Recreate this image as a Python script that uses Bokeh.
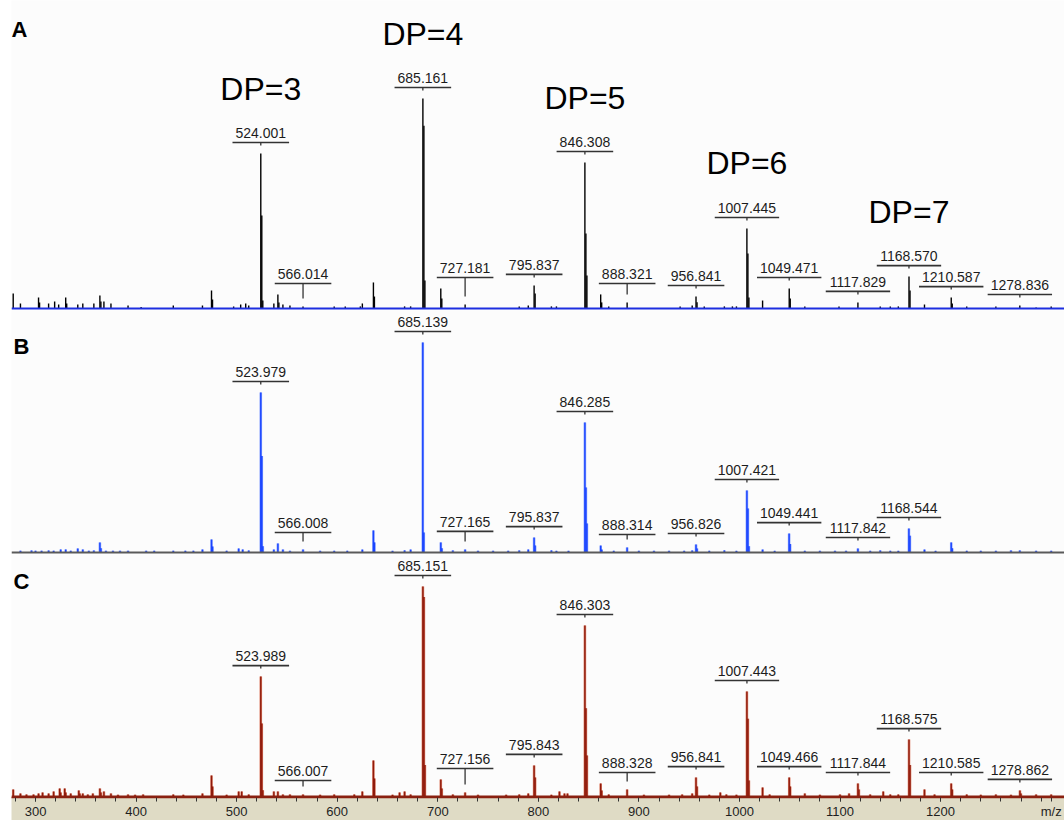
from bokeh.plotting import figure
from bokeh.layouts import column
from bokeh.models import ColumnDataSource, Span, Label, FixedTicker, Range1d
from bokeh.embed import file_html
from bokeh.resources import INLINE
from bokeh.core.properties import value

# ---------------- data (relative intensity %, base peak = 100) ----------------
dp_names = ["DP=3", "DP=4", "DP=5", "DP=6", "DP=7"]
dp_peaks_a = ["524.001", "685.161", "846.308", "1007.445", "1168.570"]

labels_a = ["524.001", "566.014", "685.161", "727.181", "795.837", "846.308", "888.321",
            "956.841", "1007.445", "1049.471", "1117.829", "1168.570", "1210.587", "1278.836"]
labels_b = ["523.979", "566.008", "685.139", "727.165", "795.837", "846.285", "888.314",
            "956.826", "1007.421", "1049.441", "1117.842", "1168.544"]
labels_c = ["523.989", "566.007", "685.151", "727.156", "795.843", "846.303", "888.328",
            "956.841", "1007.443", "1049.466", "1117.844", "1168.575", "1210.585", "1278.862"]

spec_a = [(277.8, 7.1), (285, 2.4), (303, 5.2), (304, 2.9), (313, 2.4), (319, 3.3), (323, 1.9),
          (330, 5.2), (331, 2.4), (342, 1.9), (347, 2.4), (358, 2.4), (364, 6.2), (365, 3.3),
          (368, 3.3), (375, 2.4), (392, 1.4), (405, 0.7), (437, 1.4), (466, 1.4), (475, 8.6),
          (476, 4.3), (497, 1.0), (504, 1.9), (509, 2.4), (512, 1.4),
          (524.0, 73.8), (525.0, 44.3), (526.0, 3.8), (537, 2.4), (541, 6.7), (542, 2.9),
          (546, 1.9), (553, 1.4), (566.0, 1.0), (597, 1.0), (608, 1.0), (623, 1.0), (625, 2.4),
          (636, 12.4), (637, 5.7), (667, 1.0), (673, 1.0),
          (685.2, 100.0), (686.2, 87.0), (687.2, 13.3), (703, 9.5), (704, 4.8), (727.2, 1.9),
          (781, 1.0), (790, 1.4), (795.8, 11.0), (796.8, 7.1), (813, 1.0), (818, 1.0),
          (846.3, 69.5), (847.3, 35.7), (848.3, 15.7), (862, 6.7), (863, 2.9), (870, 1.0),
          (888.3, 2.9), (941, 1.0), (953, 1.4), (956.8, 5.7), (957.8, 3.0), (965, 1.0),
          (985, 1.0), (993, 1.0), (997, 1.0),
          (1007.4, 38.1), (1008.4, 26.2), (1009.4, 5.2), (1023, 3.8), (1049.5, 9.5),
          (1050.5, 4.8), (1065, 1.0), (1099, 1.0), (1117.8, 2.9), (1140, 1.0), (1150, 1.0),
          (1158, 1.0), (1168.6, 15.2), (1169.6, 8.6), (1184, 1.9), (1210.6, 5.2), (1211.6, 2.4),
          (1226, 1.0), (1255, 1.0), (1278.8, 1.4), (1295, 0.5), (1310, 1.0)]

spec_b = [(285, 0.8), (296, 1.0), (300, 0.8), (306, 0.8), (313, 1.0), (318, 0.8), (325, 1.4),
          (330, 1.4), (335, 0.8), (342, 1.9), (347, 1.4), (353, 0.8), (358, 1.0), (364, 4.8),
          (365, 2.0), (370, 0.8), (377, 0.8), (384, 0.8), (392, 0.8), (410, 0.8), (418, 0.8),
          (437, 0.8), (449, 0.8), (457, 0.8), (466, 1.4), (475, 6.2), (476, 2.9), (490, 0.8),
          (502, 1.9), (506, 1.4), (512, 1.0),
          (524.0, 76.2), (525.0, 46.0), (526.0, 3.0), (537, 1.4), (541, 4.3), (546, 1.4),
          (553, 0.8), (566.0, 1.4), (583, 0.8), (597, 0.8), (610, 0.8), (625, 1.4), (636, 10.5),
          (637, 4.8), (655, 0.8), (667, 1.0), (673, 1.4),
          (685.1, 100.0), (686.1, 9.5), (703, 4.8), (704, 2.0), (715, 1.0), (727.2, 1.4),
          (740, 0.8), (755, 0.8), (770, 0.8), (781, 1.0), (790, 1.4), (795.8, 7.1), (796.8, 3.3),
          (813, 1.0), (818, 0.8), (830, 0.8),
          (846.3, 61.9), (847.3, 31.0), (848.3, 13.8), (862, 3.3), (863, 1.4), (875, 0.8),
          (888.3, 2.4), (900, 0.8), (915, 0.8), (930, 0.8), (945, 0.8), (953, 1.0), (956.8, 3.8),
          (957.8, 1.9), (970, 0.8), (985, 1.0), (997, 0.8),
          (1007.4, 29.5), (1008.4, 21.0), (1009.4, 3.0), (1023, 1.4), (1035, 0.8),
          (1049.4, 9.0), (1050.4, 4.0), (1065, 0.8), (1080, 0.8), (1095, 0.8), (1106, 0.8),
          (1117.8, 1.9), (1130, 0.8), (1140, 1.0), (1150, 0.8), (1158, 0.8),
          (1168.5, 11.4), (1169.5, 8.0), (1184, 1.4), (1195, 0.8), (1210.6, 4.8), (1211.6, 2.0),
          (1226, 0.8), (1240, 0.8), (1255, 0.8), (1270, 1.0), (1278.8, 1.0), (1295, 0.8),
          (1310, 0.8)]

spec_c = [(277.8, 3.3), (285, 1.4), (291, 1.0), (298, 1.0), (303, 1.4), (307, 1.9), (313, 1.4),
          (318, 2.4), (324, 3.8), (325, 1.9), (329, 3.8), (330, 1.9), (335, 1.4), (343, 2.9),
          (344, 1.4), (347, 1.4), (352, 1.0), (357, 1.4), (364, 3.8), (365, 1.9), (368, 2.4),
          (375, 1.4), (382, 0.8), (392, 1.0), (399, 0.8), (407, 1.0), (437, 1.0), (447, 0.8),
          (466, 1.4), (475, 10.0), (476, 4.8), (490, 0.8), (502, 2.4), (505, 2.4), (512, 1.0),
          (524.0, 57.1), (525.0, 34.8), (526.0, 3.0), (537, 2.4), (541, 2.4), (546, 1.0),
          (553, 1.0), (566.0, 1.0), (583, 0.8), (597, 1.0), (617, 1.0), (625, 2.4), (636, 17.1),
          (637, 8.6), (655, 0.8), (662, 1.9), (667, 2.4), (673, 1.0),
          (685.2, 100.0), (686.2, 95.0), (687.2, 15.0), (703, 8.1), (704, 3.8), (715, 1.0),
          (727.2, 1.9), (740, 0.8), (768, 0.8), (781, 1.0), (790, 1.4), (795.8, 14.8),
          (796.8, 9.0), (813, 0.8), (821, 2.4), (826, 1.4), (829, 1.4),
          (846.3, 81.4), (847.3, 42.0), (848.3, 19.5), (862, 6.2), (863, 2.9), (870, 1.0),
          (888.3, 3.3), (905, 0.8), (930, 0.8), (943, 1.0), (953, 1.4), (956.8, 9.0),
          (957.8, 4.8), (970, 0.8), (981, 1.9), (987, 1.0), (997, 0.8),
          (1007.4, 50.0), (1008.4, 37.0), (1009.4, 7.6), (1023, 4.3), (1030, 1.0),
          (1049.5, 9.0), (1050.5, 4.8), (1065, 1.4), (1080, 0.8), (1100, 1.0), (1109, 1.4),
          (1117.8, 6.2), (1118.8, 3.3), (1130, 1.0), (1143, 2.4), (1150, 1.0), (1158, 1.0),
          (1168.6, 27.1), (1169.6, 15.0), (1184, 3.3), (1194, 1.0), (1210.6, 6.2), (1211.6, 3.3),
          (1226, 1.0), (1240, 0.8), (1255, 1.0), (1270, 0.8), (1278.9, 2.9), (1279.9, 1.4),
          (1295, 1.0), (1310, 1.0)]

major_ticks = [300, 400, 500, 600, 700, 800, 900, 1000, 1100, 1200]
minor_ticks = list(range(280, 1320, 20))
axis_unit = "m/z"
axis_unit_at = 1310

# ---------------- layout constants ----------------
K = 2.1            # px per % intensity
PX = 1.0056        # px per m/z unit
LEFT = 11          # white strip left of the spectra
FW = 1064 - LEFT   # frame width
X0 = 276.1
X1 = X0 + FW / PX
FS = 14            # peak label font size
FONT = "Liberation Sans"
xr = Range1d(X0, X1)


def panel(spec, labels, color, glow, base_color, frame_h, base_px, letter, letter_px, letter_dx,
          dp=None, axis=False):
    mz = [s[0] for s in spec]
    it = [s[1] for s in spec]
    y0 = -base_px / K
    y1 = y0 + frame_h / K
    p = figure(frame_width=FW, frame_height=frame_h, x_range=xr, y_range=Range1d(y0, y1),
               output_backend="svg", toolbar_location=None,
               x_axis_location="below" if axis else None, y_axis_location=None,
               min_border_left=LEFT, min_border_right=0, min_border_top=0, min_border_bottom=0,
               background_fill_color="#fcfcfc", border_fill_color="white",
               outline_line_color=None)
    p.xgrid.visible = False
    p.ygrid.visible = False

    p.add_layout(Span(location=0, dimension="width", line_color=base_color, line_width=2.2))
    src = ColumnDataSource(dict(x=mz, y0=[0] * len(mz), y1=it))
    if glow:
        p.segment("x", "y0", "x", "y1", source=src, line_color=glow, line_width=2.6, line_alpha=0.8)
    p.segment("x", "y0", "x", "y1", source=src, line_color=color, line_width=1.4)

    # peak annotations
    lx, lu, lt, ls, lx0, lx1 = [], [], [], [], [], []
    ulev = {}
    for s in labels:
        x = float(s)
        h = max(v for m, v in zip(mz, it) if abs(m - x) <= 0.6) * K
        hw = (FS * (0.556 * (len(s) - 1) + 0.278) / 2 + 3) / PX
        near = [v * K for m, v in zip(mz, it) if abs(m - x) <= hw and abs(m - x) > 2.5]
        tip = max(h, 2) + 8
        u = max(tip + 3, (max(near) if near else 0) + 11)
        ulev[s] = u
        lx.append(x); lu.append(u / K); lt.append(tip / K); ls.append(s)
        lx0.append(x - hw); lx1.append(x + hw)
    lsrc = ColumnDataSource(dict(x=lx, u=lu, t=lt, s=ls, x0=lx0, x1=lx1,
                                 ty=[v + 4.5 / K for v in lu]))
    p.segment("x0", "u", "x1", "u", source=lsrc, line_color="#333333", line_width=1.6)
    p.segment("x", "u", "x", "t", source=lsrc, line_color="#333333", line_width=1.3)
    p.text("x", "ty", text="s", source=lsrc, text_font=value(FONT), text_font_size=f"{FS}px",
           text_align="center", text_baseline="bottom", text_color="#1c1c1c")

    if dp:
        dsrc = ColumnDataSource(dict(x=[float(s) for s in dp],
                                     y=[(ulev[s] + 36) / K for s in dp], t=dp_names))
        p.text("x", "y", text="t", source=dsrc, text_font=value(FONT), text_font_size="32px",
               text_align="center", text_baseline="bottom", text_color="#000000")

    p.add_layout(Label(x=X0 + letter_dx / PX, y=y1 - letter_px / K, text=letter,
                       text_font=FONT, text_font_size="22px", text_font_style="bold",
                       text_baseline="top", text_align="left", text_color="#000000"))

    if axis:
        ax = p.xaxis[0]
        ax.ticker = FixedTicker(ticks=major_ticks + [axis_unit_at], minor_ticks=minor_ticks)
        ax.major_label_overrides = {axis_unit_at: axis_unit}
        ax.major_label_text_font = FONT
        ax.major_label_text_font_size = "13px"
        ax.major_label_text_color = "#1e1e1e"
        ax.major_label_standoff = 2
        ax.major_tick_out = 4
        ax.major_tick_in = 0
        ax.minor_tick_out = 4
        ax.minor_tick_in = 0
        ax.major_tick_line_color = "#333333"
        ax.minor_tick_line_color = "#333333"
        ax.axis_line_color = base_color
        ax.axis_line_width = 1.5
        try:
            ax.background_fill_color = "#dfdbc5"
        except AttributeError:
            pass
    return p


pa = panel(spec_a, labels_a, "#000000", None, "#1d2fe0", 310, 2, "A", 16, 0, dp=dp_peaks_a)
pb = panel(spec_b, labels_b, "#1a44ff", "#6f8fff", "#5a5a5a", 244, 2, "B", 23, 2)
pc = panel(spec_c, labels_c, "#8e1a0c", "#d8684a", "#8a2010", 243, 1, "C", 14, 2, axis=True)

layout = column(pa, pb, pc, spacing=0)
open("out.html", "w").write(file_html(layout, INLINE))
